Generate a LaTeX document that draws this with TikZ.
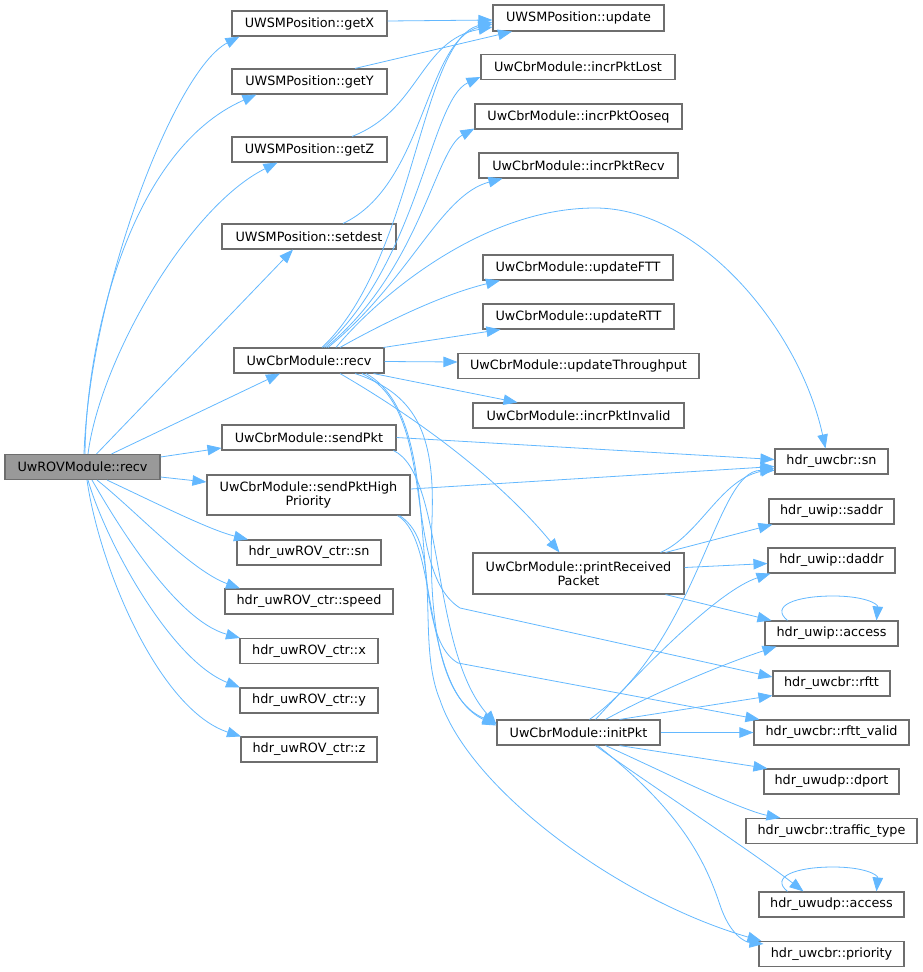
\documentclass[tikz,border=0pt]{standalone}
\usepackage{fontspec}
\setmainfont{DejaVu Sans}
\usepackage{xcolor}
\usetikzlibrary{arrows.meta}
\definecolor{edgeblue}{HTML}{63B8FF}
\definecolor{boxline}{HTML}{6E6E6E}
\definecolor{rootfill}{HTML}{999999}

\begin{document}
\begin{tikzpicture}[x=1pt, y=-1pt,
	fn/.style={draw=boxline, line width=1.1pt, rectangle, minimum height=25pt, inner sep=0pt, align=center, font=\fontsize{12.8}{14.5}\selectfont},
	root/.style={fn, fill=rootfill},
	call/.style={draw=edgeblue, line width=0.8pt, -{Triangle[length=14pt,width=10.5pt]}}]
		\useasboundingbox (0,0) rectangle (923,972);
		
		\node[root, minimum width=155pt] (rov) at (82.5,467) {UwROVModule::recv};
		
		\node[fn, minimum width=155pt] (getx) at (309.5,23.5) {UWSMPosition::getX};
		\node[fn, minimum width=155pt] (gety) at (309.5,81.5) {UWSMPosition::getY};
		\node[fn, minimum width=155pt] (getz) at (309.5,149.5) {UWSMPosition::getZ};
		\node[fn, minimum width=174pt] (setdest) at (309,236.5) {UWSMPosition::setdest};
		\node[fn, minimum width=150pt] (cbrrecv) at (309,360.5) {UwCbrModule::recv};
		\node[fn, minimum width=174pt] (sendpkt) at (309,437.5) {UwCbrModule::sendPkt};
		\node[fn, minimum width=203pt, minimum height=40pt] (sendhigh) at (308.5,495) {UwCbrModule::sendPktHigh\\Priority};
		\node[fn, minimum width=144pt] (rovsn) at (309,552.5) {hdr\_uwROV\_ctr::sn};
		\node[fn, minimum width=168pt] (rovspeed) at (309,601.5) {hdr\_uwROV\_ctr::speed};
		\node[fn, minimum width=138pt] (rovx) at (309,651) {hdr\_uwROV\_ctr::x};
		\node[fn, minimum width=138pt] (rovy) at (309,700.5) {hdr\_uwROV\_ctr::y};
		\node[fn, minimum width=136pt] (rovz) at (309,749.5) {hdr\_uwROV\_ctr::z};
		
		\node[fn, minimum width=171pt, minimum height=26pt] (update) at (578.5,18) {UWSMPosition::update};
		\node[fn, minimum width=194pt] (lost) at (578,67) {UwCbrModule::incrPktLost};
		\node[fn, minimum width=207pt] (ooseq) at (578.5,116.5) {UwCbrModule::incrPktOoseq};
		\node[fn, minimum width=199pt] (precv) at (578.5,165.5) {UwCbrModule::incrPktRecv};
		\node[fn, minimum width=190pt] (ftt) at (578,267.5) {UwCbrModule::updateFTT};
		\node[fn, minimum width=191pt] (rtt) at (578.5,316.5) {UwCbrModule::updateRTT};
		\node[fn, minimum width=241pt] (thru) at (578.5,366) {UwCbrModule::updateThroughput};
		\node[fn, minimum width=211pt] (invalid) at (578.5,415.5) {UwCbrModule::incrPktInvalid};
		\node[fn, minimum width=211pt, minimum height=41pt] (printpkt) at (578.5,573.5) {UwCbrModule::printReceived\\Packet};
		\node[fn, minimum width=163pt] (initpkt) at (578.5,732.5) {UwCbrModule::initPkt};
		
		\node[fn, minimum width=113pt] (cbrsn) at (831.5,461.5) {hdr\_uwcbr::sn};
		\node[fn, minimum width=125pt] (saddr) at (831.5,511.5) {hdr\_uwip::saddr};
		\node[fn, minimum width=127pt] (daddr) at (831.5,560.5) {hdr\_uwip::daddr};
		\node[fn, minimum width=133pt] (ipaccess) at (831.5,633.5) {hdr\_uwip::access};
		\node[fn, minimum width=117pt] (rftt) at (831.5,683.5) {hdr\_uwcbr::rftt};
		\node[fn, minimum width=155pt] (rfttvalid) at (831.5,732.5) {hdr\_uwcbr::rftt\_valid};
		\node[fn, minimum width=135pt] (dport) at (831.5,781.5) {hdr\_uwudp::dport};
		\node[fn, minimum width=171pt] (traffic) at (831.5,831) {hdr\_uwcbr::traffic\_type};
		\node[fn, minimum width=145pt] (udpaccess) at (831.5,904.5) {hdr\_uwudp::access};
		\node[fn, minimum width=145pt] (priority) at (831.5,954) {hdr\_uwcbr::priority};
		
		% calls of UwROVModule::recv
		\draw[call] ([xshift=1.5pt]rov.north) .. controls (90,290) and (175,70) .. ([xshift=8pt]getx.south west);
		\draw[call] ([xshift=2.5pt]rov.north) .. controls (86,340) and (130,150) .. ([xshift=25pt]gety.south west);
		\draw[call] ([xshift=5.5pt]rov.north) .. controls (100,360) and (188,207) .. ([xshift=46pt]getz.south west);
		\draw ([xshift=14pt]rov.north) edge[call] ([xshift=-16pt]setdest.south);
		\draw ([xshift=29pt]rov.north) edge[call] ([xshift=-29pt]cbrrecv.south);
		\draw ([yshift=10pt]rov.east) edge[call] ([yshift=-10.5pt]sendpkt.west);
		\draw ([yshift=-10pt]rov.east) edge[call] ([yshift=13pt]sendhigh.west);
		\draw[call] ([xshift=24.5pt]rov.south) .. controls (160,505) and (210,530) .. ([xshift=-61pt]rovsn.north);
		\draw[call] ([xshift=14.5pt]rov.south) .. controls (135,510) and (190,570) .. ([xshift=-69pt]rovspeed.north);
		\draw[call] ([xshift=9.5pt]rov.south) .. controls (115,520) and (175,620) .. ([xshift=-69pt]rovx.north);
		\draw[call] ([xshift=5.5pt]rov.south) .. controls (105,540) and (170,660) .. ([xshift=-69pt]rovy.north);
		\draw[call] ([xshift=4.5pt]rov.south) .. controls (100,570) and (160,710) .. ([xshift=-68pt]rovz.north);
		
		% UWSMPosition
		\draw ([yshift=2.5pt]getx.east) edge[call] ([yshift=-2pt]update.west);
		\draw ([xshift=45.5pt]gety.north) edge[call] ([xshift=-66.5pt]update.south);
		\draw[call] ([xshift=42.5pt]getz.north) .. controls (420,110) and (420,40) .. ([yshift=-9pt]update.west);
		\draw[call] ([xshift=34pt]setdest.north) .. controls (425,185) and (425,40) .. ([yshift=-6pt]update.west);
		
		% UwCbrModule::recv
		\draw[call] ([xshift=13pt]cbrrecv.north) .. controls (415,260) and (420,40) .. ([yshift=-4pt]update.west);
		\draw[call] ([xshift=15pt]cbrrecv.north) .. controls (420,260) and (430,100) .. ([yshift=-10pt]lost.west);
		\draw[call] ([xshift=17pt]cbrrecv.north) .. controls (420,270) and (435,150) .. ([yshift=-12pt]ooseq.west);
		\draw[call] ([xshift=19pt]cbrrecv.north) .. controls (410,280) and (440,195) .. ([xshift=-76pt]precv.south);
		\draw[call] ([xshift=27pt]cbrrecv.north) .. controls (375,300) and (480,208) .. (595,208) .. controls (700,208) and (800,330) .. ([xshift=-6pt]cbrsn.north);
		\draw[call] ([xshift=31pt]cbrrecv.north) .. controls (380,325) and (440,295) .. ([xshift=-78pt]ftt.south);
		\draw ([xshift=-1pt]cbrrecv.north east) edge[call] ([xshift=-78pt]rtt.south);
		\draw ([yshift=-1pt]cbrrecv.east) edge[call] ([yshift=4pt]thru.west);
		\draw ([xshift=-11pt]cbrrecv.south east) edge[call] ([xshift=-61pt]invalid.north);
		\draw[call] ([xshift=31pt]cbrrecv.south) .. controls (420,420) and (500,480) .. ([xshift=-19pt]printpkt.north);
		\draw[call] ([xshift=46pt]cbrrecv.south) .. controls (420,395) and (435,440) .. (432,520) .. controls (428,620) and (440,700) .. ([yshift=9pt]initpkt.west);
		\draw[call] ([xshift=53pt]cbrrecv.south) .. controls (440,410) and (400,570) .. (460,608) -- ([yshift=6.5pt]rftt.west);
		\draw[call] ([xshift=57pt]cbrrecv.south) .. controls (450,420) and (400,630) .. (458,663) -- ([xshift=6pt]rfttvalid.north west);
		
		% sendPkt, sendPktHighPriority
		\draw (sendpkt.east) edge[call] ([yshift=2pt]cbrsn.west);
		\draw[call] ([xshift=-3pt]sendpkt.south east) .. controls (445,475) and (430,650) .. ([yshift=8pt]initpkt.west);
		\draw ([yshift=6pt]sendhigh.east) edge[call] ([yshift=-5pt]cbrsn.west);
		\draw[call] ([xshift=-13pt]sendhigh.south east) .. controls (440,540) and (420,690) .. ([yshift=7pt]initpkt.west);
		\draw[call] ([xshift=-11pt]sendhigh.south east) .. controls (445,545) and (415,640) .. (440,700) .. controls (470,790) and (620,900) .. ([xshift=3pt]priority.north west);
		
		% printReceivedPacket
		\draw[call] ([xshift=-24pt]printpkt.north east) .. controls (700,535) and (720,480) .. ([yshift=-7pt]cbrsn.west);
		\draw ([xshift=-19pt]printpkt.north east) edge[call] ([xshift=4pt]saddr.south west);
		\draw ([yshift=6pt]printpkt.east) edge[call] ([yshift=-3pt]daddr.west);
		\draw ([xshift=-19pt]printpkt.south east) edge[call] ([xshift=7pt]ipaccess.north west);
		
		% initPkt
		\draw[call] ([xshift=11pt]initpkt.north) .. controls (700,640) and (715,470) .. ([yshift=-9pt]cbrsn.west);
		\draw[call] ([xshift=17pt]initpkt.north) .. controls (650,660) and (720,590) .. ([xshift=3pt]daddr.south west);
		\draw[call] ([xshift=27pt]initpkt.north) .. controls (650,695) and (720,665) .. ([xshift=12pt]ipaccess.south west);
		\draw ([xshift=41pt]initpkt.north) edge[call] ([yshift=1pt]rftt.south west);
		\draw (initpkt.east) edge[call] (rfttvalid.west);
		\draw ([xshift=41pt]initpkt.south) edge[call] ([xshift=4pt]dport.north west);
		\draw[call] ([xshift=27pt]initpkt.south) .. controls (660,770) and (740,810) .. ([xshift=-51pt]traffic.north);
		\draw[call] ([xshift=17pt]initpkt.south) .. controls (650,785) and (750,850) .. ([xshift=-28pt]udpaccess.north);
		\draw[call] ([xshift=19pt]initpkt.south) .. controls (680,810) and (705,860) .. (720,905) .. controls (730,935) and (745,942) .. ([xshift=5pt,yshift=-3pt]priority.north west);
		
		% self calls
		\draw[call] ([xshift=-44pt]ipaccess.north) .. controls (770,606) and (795,596) .. (833,596) .. controls (865,596) and (878,604) .. ([xshift=45pt]ipaccess.north);
		\draw[call] ([xshift=-44pt]udpaccess.north) .. controls (770,877) and (795,867) .. (833,867) .. controls (865,867) and (878,875) .. ([xshift=45pt]udpaccess.north);
		
		\end{tikzpicture}
\end{document}
